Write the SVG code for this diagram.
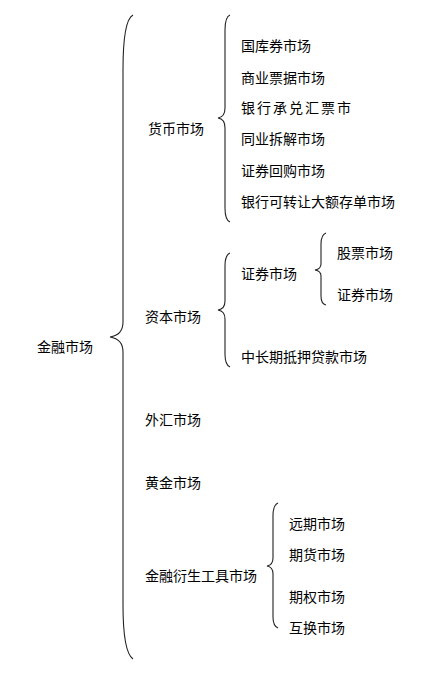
<svg xmlns="http://www.w3.org/2000/svg" width="448" height="678" viewBox="0 0 448 678">
<style>
text{font-family:"Noto Sans CJK SC","Noto Sans CJK TC",sans-serif;font-size:14px;fill:#000}
.b{fill:none;stroke:#222;stroke-width:1.1}
</style>
<rect width="448" height="678" fill="#fff"/>
<g id="connectors">
<path class="b" d="M133 15 Q123 20 123 70 L123 322 Q123 335 110 337 Q123 339 123 352 L123 605 Q123 652 133 659"/>
<path class="b" d="M230 15 Q225 17 225 30 L225 108 Q225 117 218 118 Q225 119 225 128 L225 208 Q225 220 230 222"/>
<path class="b" d="M230 253 Q225 255 225 266 L225 301 Q225 309 218 310 Q225 311 225 319 L225 354 Q225 365 230 367"/>
<path class="b" d="M326 233 Q321 235 321 244 L321 264 Q321 269 315 270 Q321 271 321 276 L321 296 Q321 304 326 305"/>
<path class="b" d="M278 503 Q273 505 273 516 L273 558 Q273 565 267 566 Q273 567 273 574 L273 617 Q273 626 278 628"/>
</g>
<g id="n-root"><text x="37" y="352">金融市场</text></g>
<g id="n-money"><text x="148" y="134">货币市场</text></g>
<g id="n-m1"><text x="241" y="51">国库券市场</text></g>
<g id="n-m2"><text x="241" y="83">商业票据市场</text></g>
<g id="n-m3"><text x="241" y="113" letter-spacing="2">银行承兑汇票市</text></g>
<g id="n-m4"><text x="241" y="144">同业拆解市场</text></g>
<g id="n-m5"><text x="241" y="176">证券回购市场</text></g>
<g id="n-m6"><text x="241" y="207">银行可转让大额存单市场</text></g>
<g id="n-capital"><text x="145" y="322">资本市场</text></g>
<g id="n-c1"><text x="241" y="279">证券市场</text></g>
<g id="n-c1a"><text x="337" y="258">股票市场</text></g>
<g id="n-c1b"><text x="337" y="300">证券市场</text></g>
<g id="n-c2"><text x="241" y="362">中长期抵押贷款市场</text></g>
<g id="n-fx"><text x="145" y="425">外汇市场</text></g>
<g id="n-gold"><text x="145" y="488">黄金市场</text></g>
<g id="n-deriv"><text x="145" y="581">金融衍生工具市场</text></g>
<g id="n-d1"><text x="289" y="529">远期市场</text></g>
<g id="n-d2"><text x="289" y="560">期货市场</text></g>
<g id="n-d3"><text x="289" y="602">期权市场</text></g>
<g id="n-d4"><text x="289" y="633">互换市场</text></g>
</svg>
